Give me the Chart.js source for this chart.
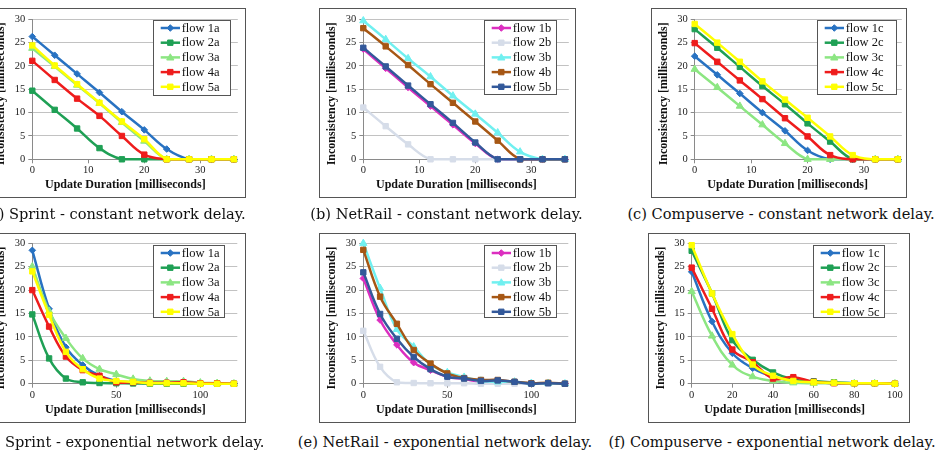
<!DOCTYPE html>
<html><head><meta charset="utf-8">
<script src="https://cdn.jsdelivr.net/npm/chart.js"></script>
<style>
html,body{margin:0;padding:0;background:#fff;overflow:hidden;width:938px;height:454px;position:relative;}
.panel{position:absolute;box-sizing:border-box;border:1px solid #555;pointer-events:none;}
canvas{position:absolute;}
.cap{position:absolute;font-family:"DejaVu Serif",serif;font-size:14.6px;white-space:nowrap;transform:translate(-50%,-50%);color:#111;}
</style></head><body>
<script>
// ---------- data ----------
const xConstant = [0,4,8,12,16,20,24,28,32,36];
const xExpSprintNetRail = [0,10,20,30,40,50,60,70,80,90,100,110,120];
const xExpCompuserve = [0,10,20,30,40,50,60,70,80,90,100];

const sprintLabels = ['flow 1a','flow 2a','flow 3a','flow 4a','flow 5a'];
const netrailLabels = ['flow 1b','flow 2b','flow 3b','flow 4b','flow 5b'];
const compuserveLabels = ['flow 1c','flow 2c','flow 3c','flow 4c','flow 5c'];

// (a) Sprint - constant
const sprintConst1a = [26.3,22.3,18.3,14.3,10.2,6.3,2.2,0,0,0];
const sprintConst2a = [14.7,10.6,6.6,2.4,0,0,0,0,0,0];
const sprintConst3a = [23.8,19.9,15.9,12.0,7.9,3.9,0,0,0,0];
const sprintConst4a = [21.1,17.0,13.0,9.3,5.0,1.0,0,0,0,0];
const sprintConst5a = [24.4,20.1,16.1,12.1,8.1,4.3,0,0,0,0];
// (b) NetRail - constant
const netrailConst1b = [23.6,19.5,15.4,11.4,7.4,3.4,0,0,0,0];
const netrailConst2b = [11.1,7.1,3.2,0,0,0,0,0,0,0];
const netrailConst3b = [29.7,25.7,21.6,17.7,13.6,9.7,5.7,1.6,0,0];
const netrailConst4b = [28.1,24.2,20.2,16.1,12.1,8.1,4.0,0,0,0];
const netrailConst5b = [23.9,19.9,15.8,11.8,7.8,3.6,0,0,0,0];
// (c) Compuserve - constant
const compConst1c = [22.1,18.1,14.1,10.0,6.1,1.9,0,0,0,0];
const compConst2c = [27.9,23.9,19.8,15.7,11.8,7.7,3.8,0,0,0];
const compConst3c = [19.3,15.4,11.4,7.4,3.4,0,0,0,0,0];
const compConst4c = [24.9,20.9,16.9,12.9,8.8,4.9,0.9,0,0,0];
const compConst5c = [29.0,25.0,20.9,16.7,12.8,8.9,4.9,0.9,0,0];
// (d) Sprint - exponential
const sprintExp1a = [28.5,16.0,7.8,4.0,1.7,0.6,0.3,0.1,0.1,0.1,0,0,0];
const sprintExp2a = [14.8,5.4,1.1,0.3,0.15,0.1,0.05,0,0,0,0,0,0];
const sprintExp3a = [25.0,15.5,9.7,5.4,3.1,2.0,1.0,0.6,0.5,0.5,0.2,0.1,0];
const sprintExp4a = [20.0,12.2,5.8,2.9,1.7,0.3,0.3,0.2,0.2,0.3,0.1,0.1,0];
const sprintExp5a = [24.0,14.7,6.8,3.1,1.1,0.6,0.4,0.1,0.1,0.1,0,0,0];
// (e) NetRail - exponential
const netrailExp1b = [22.5,13.6,8.3,4.5,2.9,1.5,1.0,0.4,0.5,0.3,0.1,0.1,0];
const netrailExp2b = [11.3,3.6,0.3,0.15,0.1,0.1,0.1,0,0,0,0,0,0];
const netrailExp3b = [30.0,20.4,11.6,7.9,4.1,2.4,1.4,0.6,0.4,0.4,0.1,0.1,0];
const netrailExp4b = [28.6,18.6,12.8,7.2,4.3,2.2,1.2,0.8,0.8,0.4,0.1,0.2,0];
const netrailExp5b = [23.8,14.9,9.6,5.7,3.1,1.5,1.1,0.6,0.7,0.4,0,0.1,0];
// (f) Compuserve - exponential
const compExp1c = [23.9,13.3,6.5,3.3,1.5,0.6,0.35,0.2,0.1,0.1,0];
const compExp2c = [28.4,19.3,9.3,5.1,2.4,0.9,0.5,0.3,0.1,0.1,0];
const compExp3c = [19.7,10.2,4.0,1.5,0.6,0.2,0.1,0.05,0,0,0];
const compExp4c = [24.8,16.0,7.3,4.6,1.1,1.4,0.4,0.1,0.1,0.1,0];
const compExp5c = [29.6,19.3,10.6,4.1,1.7,0.6,0.3,0.2,0.1,0.1,0];

const yTicks = [0,5,10,15,20,25,30];
const xTitle = 'Update Duration [milliseconds]';
const yTitle = 'Inconsistency [milliseconds]';
const captions = [
  '(a) Sprint - constant network delay.',
  '(b) NetRail - constant network delay.',
  '(c) Compuserve - constant network delay.',
  '(d) Sprint - exponential network delay.',
  '(e) NetRail - exponential network delay.',
  '(f) Compuserve - exponential network delay.'
];

// ---------- styles ----------
const SERIF = '"Liberation Serif", "Times New Roman", Times, serif';
const colorsA = ['#2872c2','#1fa055','#8ce682','#ee1c1c','#ffff00'];
const colorsB = ['#dc2ec0','#d6dde9','#70f0f0','#a65714','#33599a'];
const markers = ['rectRot','rect','triangle','rect','rect'];

const panels = [
  {box:[-11,8,257,190], plot:[32.3,19.3,237.8,159.3], xMax:36.7, xStep:10, x:xConstant,
   series:[sprintConst1a,sprintConst2a,sprintConst3a,sprintConst4a,sprintConst5a], labels:sprintLabels, colors:colorsA,
   legend:[153,20,78,76], cap:[115,213]},
  {box:[319,8,257,190], plot:[363.3,19.3,568.8,159.3], xMax:36.7, xStep:10, x:xConstant,
   series:[netrailConst1b,netrailConst2b,netrailConst3b,netrailConst4b,netrailConst5b], labels:netrailLabels, colors:colorsB,
   legend:[484,20,73,75], cap:[446.5,213]},
  {box:[651,8,256,190], plot:[694.7,19.3,901.8,159.3], xMax:36.7, xStep:10, x:xConstant,
   series:[compConst1c,compConst2c,compConst3c,compConst4c,compConst5c], labels:compuserveLabels, colors:colorsA,
   legend:[817,20,80,75], cap:[781,213]},
  {box:[-11,233,257,190], plot:[32.3,243.3,237.3,383.7], xMax:122, xStep:50, x:xExpSprintNetRail,
   series:[sprintExp1a,sprintExp2a,sprintExp3a,sprintExp4a,sprintExp5a], labels:sprintLabels, colors:colorsA,
   legend:[153,245,72,73], cap:[122,441]},
  {box:[319,233,257,190], plot:[363.3,243.3,568.3,383.7], xMax:122, xStep:50, x:xExpSprintNetRail,
   series:[netrailExp1b,netrailExp2b,netrailExp3b,netrailExp4b,netrailExp5b], labels:netrailLabels, colors:colorsB,
   legend:[484,245,73,73], cap:[445,441]},
  {box:[648,233,262,190], plot:[691.7,243.3,897,383.7], xMax:101, xStep:20, x:xExpCompuserve,
   series:[compExp1c,compExp2c,compExp3c,compExp4c,compExp5c], labels:compuserveLabels, colors:colorsA,
   legend:[813,245,72,73], cap:[772,441]}
];

function drawMarker(ctx, style, x, y, color){
  ctx.fillStyle = color; ctx.strokeStyle = color; ctx.lineWidth = 1;
  ctx.beginPath();
  if (style === 'rect') { ctx.rect(x-2.7, y-2.7, 5.4, 5.4); }
  else if (style === 'rectRot') { ctx.moveTo(x, y-3.3); ctx.lineTo(x+3.3, y); ctx.lineTo(x, y+3.3); ctx.lineTo(x-3.3, y); ctx.closePath(); }
  else { ctx.moveTo(x, y-3.6); ctx.lineTo(x+3.6, y+2.6); ctx.lineTo(x-3.6, y+2.6); ctx.closePath(); }
  ctx.fill(); ctx.stroke();
}

const decor = {
  id:'decor',
  afterDraw(chart, args, opts){
    const p = opts.panel; const ctx = chart.ctx; const ca = chart.chartArea;
    const bx = p.box[0], by = p.box[1];
    ctx.save();
    ctx.fillStyle = '#111';
    ctx.font = 'bold 12px ' + SERIF;
    ctx.textAlign = 'center'; ctx.textBaseline = 'middle';
    ctx.fillText(xTitle, ca.left + 93, ca.bottom + 26);
    ctx.translate(ca.left - 31, (ca.top + ca.bottom)/2 + 4.5);
    ctx.rotate(-Math.PI/2);
    ctx.fillText(yTitle, 0, 0);
    ctx.restore();
    // legend
    const [lx, ly, lw, lh] = p.legend;
    const x0 = lx - bx, y0 = ly - by;
    ctx.save();
    ctx.fillStyle = '#fff'; ctx.fillRect(x0, y0, lw, lh);
    ctx.strokeStyle = '#555'; ctx.lineWidth = 1; ctx.strokeRect(x0+0.5, y0+0.5, lw-1, lh-1);
    chart.data.datasets.forEach((ds, i) => {
      const cy = y0 + 8 + i*14.7;
      ctx.strokeStyle = ds.borderColor; ctx.lineWidth = 2.5;
      ctx.beginPath(); ctx.moveTo(x0+7.7, cy); ctx.lineTo(x0+27, cy); ctx.stroke();
      drawMarker(ctx, ds.pointStyle, x0+17.3, cy, ds.borderColor);
      ctx.fillStyle = '#111'; ctx.font = '12.5px ' + SERIF;
      ctx.textAlign = 'left'; ctx.textBaseline = 'middle';
      ctx.fillText(ds.label, x0+28.7, cy+0.5);
    });
    ctx.restore();
  }
};

function makePanel(p, idx){
  const [bx, by, bw, bh] = p.box;
  const [pl, pt, pr, pb] = p.plot;
  const cv = document.createElement('canvas');
  cv.width = bw; cv.height = bh;
  cv.style.left = bx + 'px'; cv.style.top = by + 'px';
  cv.style.width = bw + 'px'; cv.style.height = bh + 'px';
  document.body.appendChild(cv);
  const border = document.createElement('div');
  border.className = 'panel';
  border.style.left = bx + 'px'; border.style.top = by + 'px';
  border.style.width = bw + 'px'; border.style.height = bh + 'px';
  document.body.appendChild(border);
  const cap = document.createElement('div');
  cap.className = 'cap'; cap.textContent = captions[idx];
  cap.style.left = p.cap[0] + 'px'; cap.style.top = p.cap[1] + 'px';
  document.body.appendChild(cap);

  const yW = pl - bx, xH = (by + bh) - pb;
  const datasets = p.series.map((vals, i) => ({
    label: p.labels[i],
    data: p.x.map((xv, j) => ({x: xv, y: vals[j]})),
    borderColor: p.colors[i], backgroundColor: p.colors[i],
    pointBackgroundColor: p.colors[i], pointBorderColor: p.colors[i],
    pointStyle: markers[i],
    pointRadius: markers[i] === 'rect' ? 3.8 : (markers[i] === 'triangle' ? 4.2 : 3.3),
    pointBorderWidth: 1,
    borderWidth: 2.5, tension: 0.4, fill: false, clip: false,
    order: 4 - i
  }));
  new Chart(cv, {
    type: 'line',
    data: {datasets},
    options: {
      responsive: false, animation: false, devicePixelRatio: 1,
      layout: {padding: {left: 0, top: pt - by, right: (bx + bw) - pr, bottom: 0}},
      plugins: {legend: {display: false}, tooltip: {enabled: false}, decor: {panel: p}},
      scales: {
        x: {
          type: 'linear', min: 0, max: p.xMax,
          afterFit: s => { s.height = xH; },
          afterBuildTicks: s => { s.ticks = s.ticks.filter(t => Math.abs(t.value / p.xStep - Math.round(t.value / p.xStep)) < 1e-6); },
          ticks: {stepSize: p.xStep, includeBounds: false, padding: 1, color: '#222', font: {family: SERIF, size: 10.5}, maxRotation: 0},
          grid: {drawOnChartArea: false, tickLength: 4, color: '#8a8a8a'},
          border: {color: '#8a8a8a'}
        },
        y: {
          min: 0, max: 30,
          afterFit: s => { s.width = yW; },
          afterBuildTicks: s => { s.ticks = yTicks.map(v => ({value: v})); },
          ticks: {stepSize: 5, padding: 3, color: '#222', font: {family: SERIF, size: 10.5}},
          grid: {color: '#c2c2c2', tickLength: 4, tickColor: '#8a8a8a'},
          border: {color: '#8a8a8a'}
        }
      }
    },
    plugins: [decor]
  });
}
panels.forEach(makePanel);
</script>
</body></html>
